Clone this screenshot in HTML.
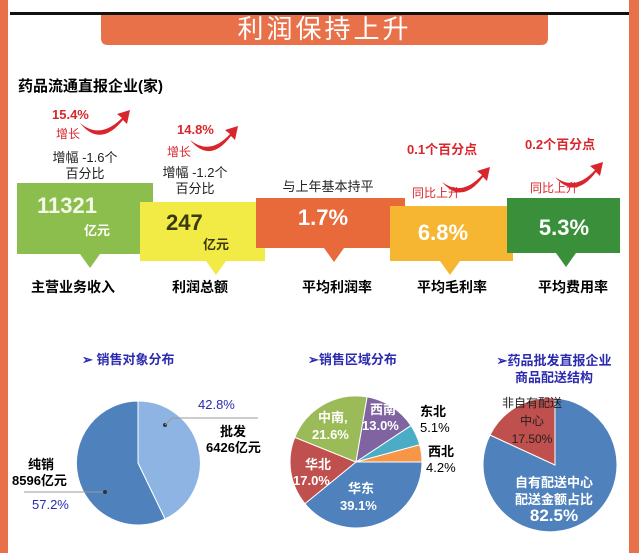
<!DOCTYPE html>
<html><head><meta charset="utf-8"><style>
body{margin:0;width:639px;height:553px;overflow:hidden;background:#fff;font-family:"Liberation Sans","Noto Sans CJK SC",sans-serif;}
.t{position:absolute;white-space:nowrap;line-height:1;}
.b{font-weight:bold;}
.r{color:#D9262C;font-weight:bold;}
.w{color:#fff;font-weight:bold;}
.bl{color:#2B2BB0;font-weight:bold;}
</style></head><body>
<svg width="639" height="553" style="position:absolute;left:0;top:0">
<rect x="0" y="0" width="8" height="553" fill="#E8714A"/>
<rect x="629" y="0" width="10" height="553" fill="#E8714A"/>
<rect x="10" y="12" width="619" height="3" fill="#111"/>
<path d="M101 15 H548 V38 Q548 45 541 45 H108 Q101 45 101 38 Z" fill="#E8714A"/>
<!-- arrows -->
<path d="M80 123 Q100 140 122 118 L117 114 L130 110 L127 124 L123 120 Q100 148 80 123 Z" fill="#D9262C"/>
<path d="M190 140 Q210 156 230 134 L225 130 L238 126 L235 140 L231 136 Q210 164 190 140 Z" fill="#D9262C"/>
<path d="M442 182 Q462 197 482 175 L477 171 L490 167 L487 181 L483 177 Q462 205 442 182 Z" fill="#D9262C"/>
<path d="M555 177 Q575 192 595 170 L590 166 L603 162 L600 176 L596 172 Q575 200 555 177 Z" fill="#D9262C"/>
<!-- boxes -->
<rect x="17" y="183" width="136" height="71" fill="#8BBE4D"/><path d="M80 254 L100 254 L90 268Z" fill="#8BBE4D"/>
<rect x="140" y="202" width="125" height="59" fill="#F2EA45"/><path d="M206 261 L226 261 L216 275Z" fill="#F2EA45"/>
<rect x="256" y="198" width="149" height="50" fill="#E8693A"/><path d="M324 248 L344 248 L334 262Z" fill="#E8693A"/>
<rect x="390" y="206" width="123" height="55" fill="#F7B632"/><path d="M440 261 L460 261 L450 275Z" fill="#F7B632"/>
<rect x="507" y="198" width="113" height="55" fill="#3A8F3A"/><path d="M556 253 L576 253 L566 267Z" fill="#3A8F3A"/>
<!-- pie1 -->
<path d="M138 463 L138 401 A62 62 0 0 1 165 519 Z" fill="#8DB4E2" stroke="#fff" stroke-width="1"/>
<path d="M138 463 L165 519 A62 62 0 1 1 138 401 Z" fill="#4F81BD" stroke="#fff" stroke-width="1"/>
<line x1="172" y1="418" x2="258" y2="418" stroke="#999"/><circle cx="165" cy="425" r="2" fill="#333"/><line x1="165" y1="425" x2="172" y2="418" stroke="#999"/>
<line x1="24" y1="492" x2="105" y2="492" stroke="#999"/><circle cx="105" cy="492" r="2" fill="#333"/>
<!-- pie2 -->
<g stroke="#fff" stroke-width="1">
<path d="M356 462 L422 462 A66 66 0 0 1 304.9 503.7Z" fill="#4F81BD"/>
<path d="M356 462 L304.9 503.7 A66 66 0 0 1 294.8 437.3Z" fill="#C0504D"/>
<path d="M356 462 L294.8 437.3 A66 66 0 0 1 367.1 396.9Z" fill="#9BBB59"/>
<path d="M356 462 L367.1 396.9 A66 66 0 0 1 411 425.6Z" fill="#8064A2"/>
<path d="M356 462 L411 425.6 A66 66 0 0 1 419.7 444.8Z" fill="#4BACC6"/>
<path d="M356 462 L419.7 444.8 A66 66 0 0 1 422 462Z" fill="#F79646"/>
</g>
<!-- pie3 -->
<path d="M555 465 L555 398 A67 67 0 1 1 490 435 Z" fill="#4F81BD" stroke="#fff"/>
<path d="M555 465 L490 435 A67 67 0 0 1 555 398 Z" fill="#C0504D" stroke="#fff"/>
</svg>
<div class="t" style="left:101px;width:447px;top:16px;text-align:center;font-size:26px;color:#fff;letter-spacing:3px">利润保持上升</div>
<div class="t b" style="left:18px;top:79px;font-size:15px">药品流通直报企业(家)</div>
<div class="t r" style="left:52px;top:108px;font-size:13px">15.4%</div>
<div class="t r" style="left:56px;top:128px;font-size:12px;font-weight:normal">增长</div>
<div class="t" style="left:45px;top:150px;width:80px;text-align:center;font-size:13px;line-height:16px;color:#222">增幅 -1.6个<br>百分比</div>
<div class="t r" style="left:177px;top:123px;font-size:13px">14.8%</div>
<div class="t r" style="left:167px;top:146px;font-size:12px;font-weight:normal">增长</div>
<div class="t" style="left:155px;top:165px;width:80px;text-align:center;font-size:13px;line-height:16px;color:#222">增幅 -1.2个<br>百分比</div>
<div class="t" style="left:268px;top:180px;width:120px;text-align:center;font-size:13px;color:#222">与上年基本持平</div>
<div class="t r" style="left:407px;top:143px;font-size:13px">0.1个百分点</div>
<div class="t r" style="left:412px;top:187px;font-size:12px;font-weight:normal">同比上升</div>
<div class="t r" style="left:525px;top:138px;font-size:13px">0.2个百分点</div>
<div class="t r" style="left:530px;top:182px;font-size:12px;font-weight:normal">同比上升</div>
<div class="t w" style="left:37px;top:195px;font-size:22px;color:#F4F9E8">11321</div>
<div class="t w" style="left:84px;top:224px;font-size:13px">亿元</div>
<div class="t b" style="left:166px;top:212px;font-size:22px;color:#3A3A10">247</div>
<div class="t b" style="left:203px;top:238px;font-size:13px;color:#3A3A10">亿元</div>
<div class="t w" style="left:273px;top:207px;width:100px;text-align:center;font-size:22px">1.7%</div>
<div class="t w" style="left:393px;top:222px;width:100px;text-align:center;font-size:22px">6.8%</div>
<div class="t w" style="left:514px;top:217px;width:100px;text-align:center;font-size:22px">5.3%</div>
<div class="t b" style="left:13px;top:280px;width:120px;text-align:center;font-size:14px">主营业务收入</div>
<div class="t b" style="left:160px;top:280px;width:80px;text-align:center;font-size:14px">利润总额</div>
<div class="t b" style="left:287px;top:280px;width:100px;text-align:center;font-size:14px">平均利润率</div>
<div class="t b" style="left:402px;top:280px;width:100px;text-align:center;font-size:14px">平均毛利率</div>
<div class="t b" style="left:523px;top:280px;width:100px;text-align:center;font-size:14px">平均费用率</div>
<div class="t bl" style="left:82px;top:353px;font-size:13px">➢ 销售对象分布</div>
<div class="t bl" style="left:308px;top:353px;font-size:13px">➢销售区域分布</div>
<div class="t bl" style="left:484px;top:352px;width:140px;text-align:center;font-size:13px;line-height:17px">➢药品批发直报企业<br>商品配送结构</div>
<div class="t" style="left:198px;top:398px;font-size:13px;color:#2B2BB0">42.8%</div>
<div class="t b" style="left:220px;top:425px;font-size:13px">批发</div>
<div class="t b" style="left:206px;top:441px;font-size:13px">6426亿元</div>
<div class="t b" style="left:28px;top:458px;font-size:13px">纯销</div>
<div class="t b" style="left:12px;top:474px;font-size:13px">8596亿元</div>
<div class="t" style="left:32px;top:498px;font-size:13px;color:#2B2BB0">57.2%</div>
<div class="t w" style="left:318px;top:411px;font-size:13px">中南,</div>
<div class="t w" style="left:312px;top:428px;font-size:13px">21.6%</div>
<div class="t w" style="left:370px;top:403px;font-size:13px">西南</div>
<div class="t w" style="left:362px;top:419px;font-size:13px">13.0%</div>
<div class="t b" style="left:420px;top:405px;font-size:13px">东北</div>
<div class="t" style="left:420px;top:421px;font-size:13px">5.1%</div>
<div class="t b" style="left:428px;top:445px;font-size:13px">西北</div>
<div class="t" style="left:426px;top:461px;font-size:13px">4.2%</div>
<div class="t w" style="left:305px;top:458px;font-size:13px">华北</div>
<div class="t w" style="left:293px;top:474px;font-size:13px">17.0%</div>
<div class="t w" style="left:348px;top:482px;font-size:13px">华东</div>
<div class="t w" style="left:340px;top:499px;font-size:13px">39.1%</div>
<div class="t" style="left:497px;top:394px;width:70px;text-align:center;font-size:12px;line-height:18px;color:#222">非自有配送<br>中心<br>17.50%</div>
<div class="t w" style="left:494px;top:474px;width:120px;text-align:center;font-size:13px;line-height:17px">自有配送中心<br>配送金额占比</div>
<div class="t w" style="left:494px;top:507px;width:120px;text-align:center;font-size:17px">82.5%</div>
</body></html>
